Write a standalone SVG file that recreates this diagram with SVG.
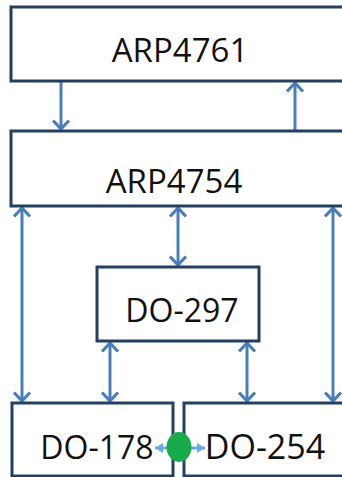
<svg xmlns="http://www.w3.org/2000/svg" width="342" height="477" viewBox="0 0 342 477">
<style>
.box{fill:#ffffff;stroke:#243f60;stroke-width:3}
.lbl{font-family:"Open Sans","Liberation Sans",Arial,sans-serif;fill:#111111;text-anchor:middle}
.conn{stroke:#4a7ebb;stroke-width:3;fill:none}
.small{stroke:#6fa8dc;stroke-width:3;fill:none}
</style>
<defs>
<marker id="ah" markerUnits="userSpaceOnUse" viewBox="-12 -12 24 24" markerWidth="24" markerHeight="24" refX="0" refY="0" orient="auto-start-reverse">
<path d="M-8.5,-8 L0,0 L-8.5,8" fill="none" stroke="#4a7ebb" stroke-width="3.2"/>
</marker>
<marker id="sh" markerUnits="userSpaceOnUse" viewBox="-10 -10 20 20" markerWidth="20" markerHeight="20" refX="0" refY="0" orient="auto-start-reverse">
<path d="M-8,-5 L0,0 L-8,5 Z" fill="#6fa8dc"/>
</marker>
</defs>
<rect width="342" height="477" fill="#ffffff"/>
<g id="connectors">
<line class="conn" x1="61" y1="82" x2="61" y2="129" marker-end="url(#ah)"/>
<line class="conn" x1="295" y1="130" x2="295" y2="83" marker-end="url(#ah)"/>
<line class="conn" x1="22" y1="208" x2="22" y2="401" marker-start="url(#ah)" marker-end="url(#ah)"/>
<line class="conn" x1="178" y1="208" x2="178" y2="265" marker-start="url(#ah)" marker-end="url(#ah)"/>
<line class="conn" x1="333" y1="208" x2="333" y2="401" marker-start="url(#ah)" marker-end="url(#ah)"/>
<line class="conn" x1="110" y1="343" x2="110" y2="401" marker-start="url(#ah)" marker-end="url(#ah)"/>
<line class="conn" x1="247" y1="343" x2="247" y2="401" marker-start="url(#ah)" marker-end="url(#ah)"/>
</g>
<g id="arp4761">
<rect class="box" x="11" y="7" width="345" height="74"/>
<text class="lbl" x="180" y="62" font-size="33">ARP4761</text>
</g>
<g id="arp4754">
<rect class="box" x="11" y="131" width="345" height="75"/>
<text class="lbl" x="174" y="193" font-size="33">ARP4754</text>
</g>
<g id="do297">
<rect class="box" x="97" y="267" width="162" height="74"/>
<text class="lbl" x="182" y="322" font-size="32">DO-297</text>
</g>
<g id="do178">
<rect class="box" x="12" y="403" width="161" height="73"/>
<text class="lbl" x="97" y="459" font-size="32">DO-178</text>
</g>
<g id="do254">
<rect class="box" x="184" y="403" width="170" height="73"/>
<text class="lbl" x="265" y="459" font-size="34">DO-254</text>
</g>
<g id="link">
<line class="small" x1="170" y1="448" x2="155" y2="448" marker-end="url(#sh)"/>
<line class="small" x1="189" y1="448" x2="205" y2="448" marker-end="url(#sh)"/>
<ellipse cx="179" cy="447" rx="12.5" ry="15" fill="#17ab4b"/>
</g>
</svg>
